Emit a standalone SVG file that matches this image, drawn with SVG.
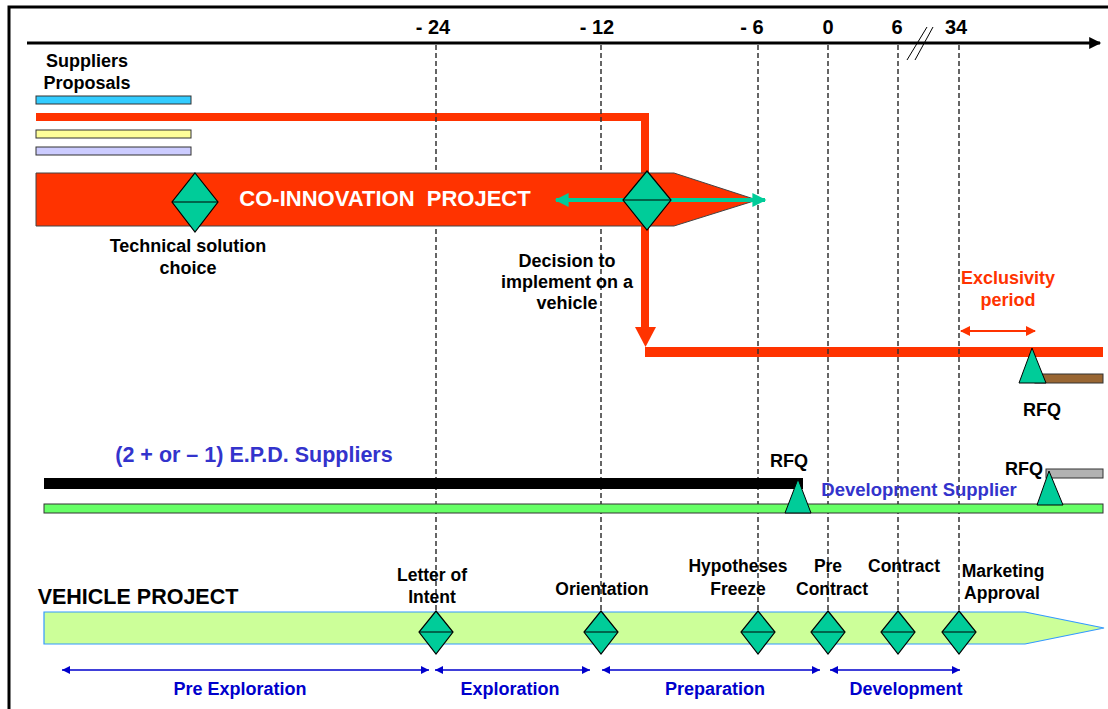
<svg xmlns="http://www.w3.org/2000/svg" width="1108" height="709" viewBox="0 0 1108 709">
<style>
text{font-family:"Liberation Sans",Arial,sans-serif;font-weight:bold}
.lbl{font-size:18px;fill:#000;text-anchor:middle}
.tick{font-size:20px;fill:#000;text-anchor:middle}
.ms{font-size:17.5px;fill:#000;text-anchor:middle}
.phase{font-size:18px;fill:#0000CC;text-anchor:middle}
.dash{stroke:#333;stroke-width:1.5;stroke-dasharray:5 3;fill:none}
.dia{fill:#00CC99;stroke:#000;stroke-width:1.2}
.tri{fill:#00CC99;stroke:#000;stroke-width:1}
.ph{stroke:#0000CC;stroke-width:1.5;fill:none;marker-start:url(#bh);marker-end:url(#bh)}
</style>
<defs>
<marker id="bh" viewBox="0 0 10 10" refX="10" refY="5" markerWidth="8" markerHeight="8" markerUnits="userSpaceOnUse" orient="auto-start-reverse"><path d="M0,0 L10,5 L0,10 z" fill="#0000CC"/></marker>
<marker id="th" viewBox="0 0 10 10" refX="9" refY="5" markerWidth="16" markerHeight="14" markerUnits="userSpaceOnUse" orient="auto-start-reverse"><path d="M0,0 L10,5 L0,10 z" fill="#00CC99"/></marker>
<marker id="rh" viewBox="0 0 10 10" refX="9" refY="5" markerWidth="12" markerHeight="10" markerUnits="userSpaceOnUse" orient="auto-start-reverse"><path d="M0,0 L10,5 L0,10 z" fill="#FF3300"/></marker>
<marker id="ah" viewBox="0 0 10 10" refX="9" refY="5" markerWidth="14" markerHeight="12" markerUnits="userSpaceOnUse" orient="auto"><path d="M0,0 L10,5 L0,10 z" fill="#000"/></marker>
</defs>
<rect width="1108" height="709" fill="#fff"/>
<!-- frame -->
<path d="M9,709 V7 H1108" fill="none" stroke="#000" stroke-width="3"/>

<!-- time axis -->
<g id="axis">
<line x1="27" y1="43" x2="1100" y2="43" stroke="#000" stroke-width="3" marker-end="url(#ah)"/>
<text class="tick" x="433" y="34">- 24</text>
<text class="tick" x="597" y="34">- 12</text>
<text class="tick" x="752" y="34">- 6</text>
<text class="tick" x="828" y="34">0</text>
<text class="tick" x="897" y="34">6</text>
<text class="tick" x="956" y="34">34</text>
<line x1="907" y1="60" x2="927" y2="27" stroke="#000" stroke-width="1"/>
<line x1="915" y1="60" x2="933" y2="27" stroke="#000" stroke-width="1"/>
</g>

<!-- supplier proposals -->
<g id="suppliers">
<text class="lbl" x="87" y="67">Suppliers</text>
<text class="lbl" x="87" y="89">Proposals</text>
<rect x="36" y="96" width="155" height="8" fill="#33CCFF" stroke="#333" stroke-width="1"/>
<rect x="36" y="130" width="155" height="8" fill="#FFFF99" stroke="#333" stroke-width="1"/>
<rect x="36" y="147" width="155" height="8" fill="#CCCCFF" stroke="#333" stroke-width="1"/>
</g>

<g id="connectors">
<!-- red path from supplier to vehicle -->
<path d="M36,117 H645 V332" fill="none" stroke="#FF3300" stroke-width="8"/>
<path d="M635,327 L656,327 L645.5,347 z" fill="#FF3300"/>
<rect x="645" y="347" width="458" height="10" fill="#FF3300"/>
<!-- exclusivity arrow -->
<line x1="961" y1="331" x2="1035" y2="331" stroke="#FF3300" stroke-width="2" marker-start="url(#rh)" marker-end="url(#rh)"/>
</g>

<!-- dashed time lines -->
<g id="timelines">
<line class="dash" x1="436" y1="45" x2="436" y2="612"/>
<line class="dash" x1="601" y1="45" x2="601" y2="612"/>
<line class="dash" x1="758" y1="45" x2="758" y2="612"/>
<line class="dash" x1="828" y1="45" x2="828" y2="612"/>
<line class="dash" x1="898" y1="45" x2="898" y2="612"/>
<line class="dash" x1="959" y1="45" x2="959" y2="612"/>
</g>

<!-- co-innovation project -->
<g id="co-innovation">
<path d="M36,173 H674 L757,200 L674,226 H36 z" fill="#FF3300" stroke="#444" stroke-width="1"/>
<text x="385" y="206" font-size="22" fill="#fff" text-anchor="middle" xml:space="preserve" style="white-space:pre">CO-INNOVATION  PROJECT</text>
<line x1="556" y1="200" x2="765" y2="200" stroke="#00CC99" stroke-width="4" marker-start="url(#th)" marker-end="url(#th)"/>
</g>

<g id="tech-choice">
<path class="dia" d="M195,173 L218,202 L195,232 L172,202 z"/>
<line x1="172" y1="202" x2="218" y2="202" stroke="#000" stroke-width="1.2"/>
<text class="lbl" x="188" y="252">Technical solution</text>
<text class="lbl" x="188" y="274">choice</text>
</g>

<g id="decision">
<path class="dia" d="M647,171 L671,200 L647,230 L623,200 z"/>
<line x1="623" y1="200" x2="671" y2="200" stroke="#000" stroke-width="1.2"/>
<text class="lbl" x="567" y="267">Decision to</text>
<text class="lbl" x="567" y="288">implement on a</text>
<text class="lbl" x="567" y="309">vehicle</text>
</g>

<g id="exclusivity">
<text x="1008" y="284" font-size="18" fill="#FF3300" text-anchor="middle">Exclusivity</text>
<text x="1008" y="306" font-size="18" fill="#FF3300" text-anchor="middle">period</text>
</g>

<g id="rfq-top">
<rect x="1035" y="374" width="68" height="9" fill="#996633" stroke="#333" stroke-width="1"/>
<path class="tri" d="M1032,348 L1046,383 L1019,383 z"/>
<text class="lbl" x="1042" y="416">RFQ</text>
</g>

<!-- EPD suppliers -->
<g id="epd">
<text x="254" y="462" font-size="21.5" fill="#3333CC" text-anchor="middle">(2 + or – 1) E.P.D. Suppliers</text>
<rect x="44" y="478" width="759" height="11" fill="#000"/>
<rect x="44" y="504" width="1059" height="9" fill="#66FF66" stroke="#333" stroke-width="1"/>
<text x="919" y="496" font-size="18.5" fill="#3333CC" text-anchor="middle">Development Supplier</text>
</g>

<g id="rfq-epd">
<path class="tri" d="M798,479 L811,513 L785,513 z"/>
<text class="lbl" x="789" y="467">RFQ</text>
</g>

<g id="rfq-dev">
<rect x="1046" y="469" width="57" height="9" fill="#B2B2B2" stroke="#333" stroke-width="1"/>
<path class="tri" d="M1049,471 L1063,505 L1037,505 z"/>
<text class="lbl" x="1024" y="475">RFQ</text>
</g>

<!-- vehicle project -->
<g id="vehicle">
<text x="138" y="604" font-size="21.5" fill="#000" text-anchor="middle">VEHICLE PROJECT</text>
<path d="M44,612 H1025 L1104,628 L1025,644 H44 z" fill="#CCFF99" stroke="#3399FF" stroke-width="1.2"/>
</g>

<g id="ms-loi">
<path class="dia" d="M436,611 L453,632 L436,654 L419,632 z"/><line x1="419" y1="632" x2="453" y2="632" stroke="#000"/>
<text class="ms" x="432" y="581">Letter of</text>
<text class="ms" x="432" y="603">Intent</text>
</g>
<g id="ms-orientation">
<path class="dia" d="M601,611 L618,632 L601,654 L584,632 z"/><line x1="584" y1="632" x2="618" y2="632" stroke="#000"/>
<text class="ms" x="602" y="595">Orientation</text>
</g>
<g id="ms-hyp">
<path class="dia" d="M758,611 L775,632 L758,654 L741,632 z"/><line x1="741" y1="632" x2="775" y2="632" stroke="#000"/>
<text class="ms" x="738" y="572">Hypotheses</text>
<text class="ms" x="738" y="595">Freeze</text>
</g>
<g id="ms-precontract">
<path class="dia" d="M828,611 L845,632 L828,654 L811,632 z"/><line x1="811" y1="632" x2="845" y2="632" stroke="#000"/>
<text class="ms" x="828" y="572">Pre</text>
<text class="ms" x="832" y="595">Contract</text>
</g>
<g id="ms-contract">
<path class="dia" d="M898,611 L915,632 L898,654 L881,632 z"/><line x1="881" y1="632" x2="915" y2="632" stroke="#000"/>
<text class="ms" x="904" y="572">Contract</text>
</g>
<g id="ms-marketing">
<path class="dia" d="M959,611 L976,632 L959,654 L942,632 z"/><line x1="942" y1="632" x2="976" y2="632" stroke="#000"/>
<text class="ms" x="1003" y="577">Marketing</text>
<text class="ms" x="1002" y="599">Approval</text>
</g>

<!-- phases -->
<g id="phases">
<line class="ph" x1="62" y1="670" x2="429" y2="670"/>
<line class="ph" x1="435" y1="670" x2="590" y2="670"/>
<line class="ph" x1="602" y1="670" x2="820" y2="670"/>
<line class="ph" x1="830" y1="670" x2="960" y2="670"/>
<text class="phase" x="240" y="695">Pre Exploration</text>
<text class="phase" x="510" y="695">Exploration</text>
<text class="phase" x="715" y="695">Preparation</text>
<text class="phase" x="906" y="695">Development</text>
</g>
</svg>
